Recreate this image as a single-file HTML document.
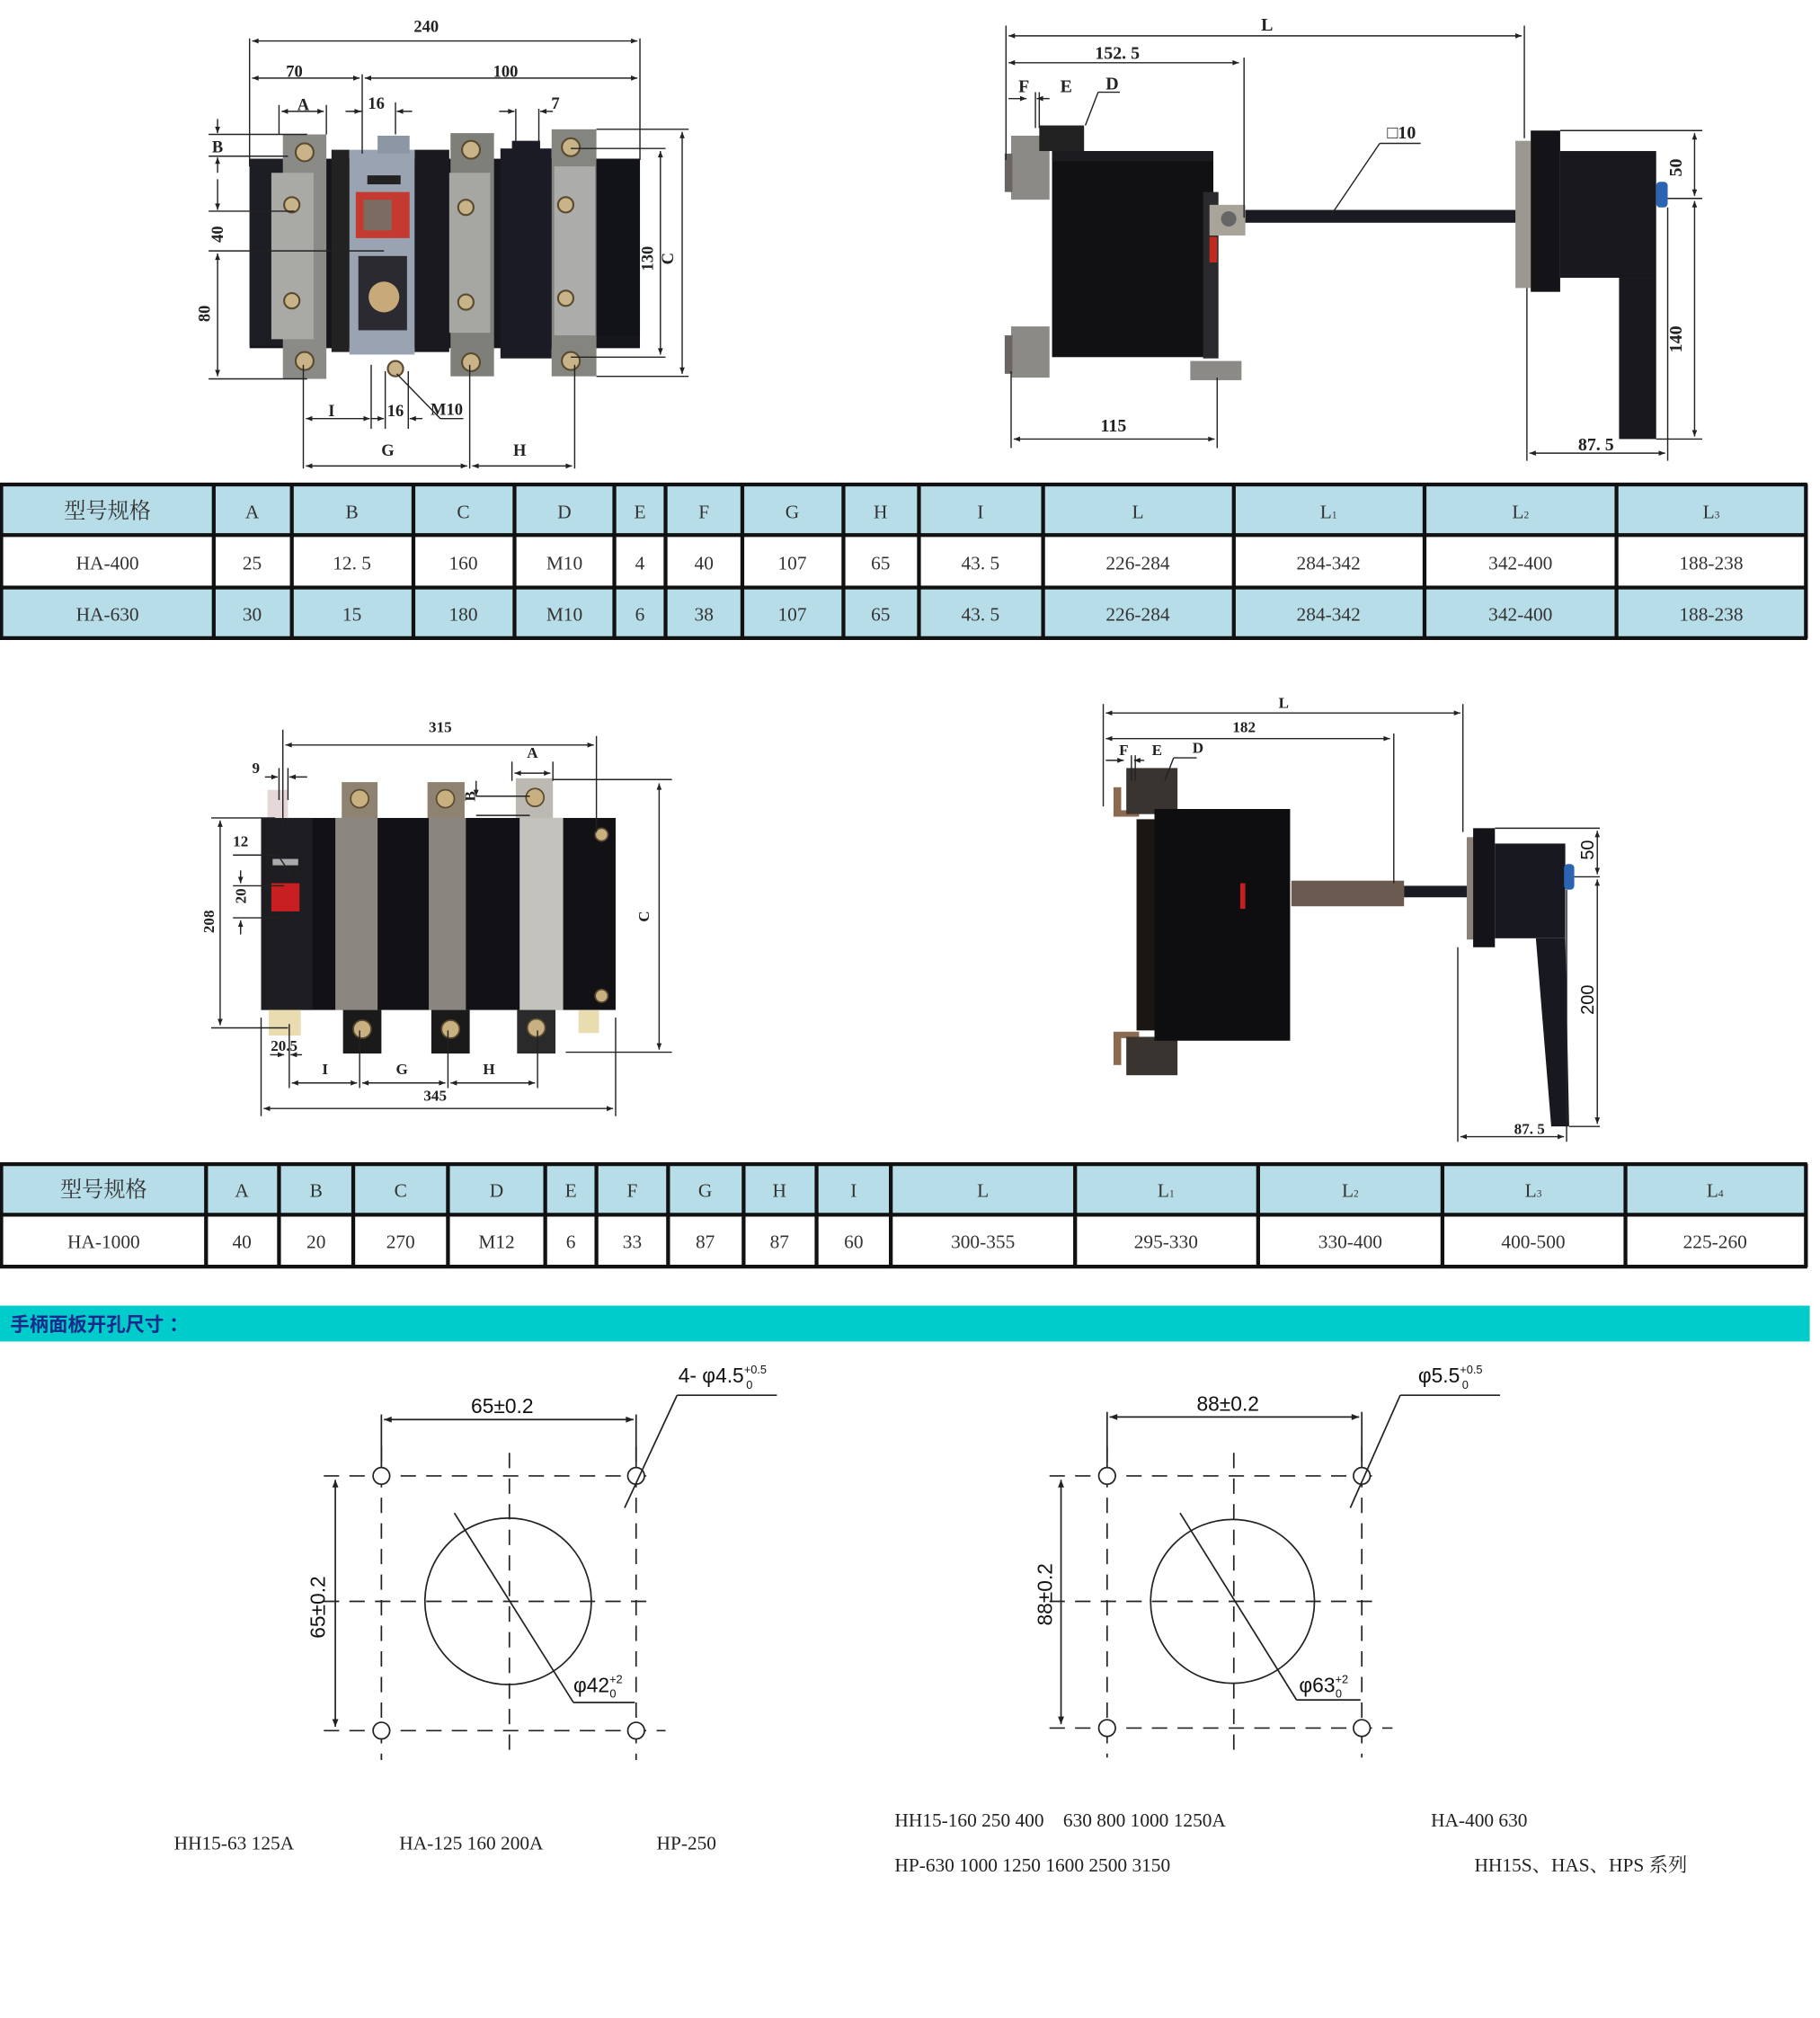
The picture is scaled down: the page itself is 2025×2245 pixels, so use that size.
<!DOCTYPE html>
<html><head><meta charset="utf-8">
<style>
html,body{margin:0;padding:0;background:#fff;}
svg{display:block;}
.s{font-family:"Liberation Serif","Noto Serif CJK SC",serif;fill:#222;}
.a{font-family:"Liberation Sans","Noto Sans CJK SC",sans-serif;fill:#111;}
.t{font-family:"Liberation Serif","Noto Serif CJK SC",serif;fill:#333;font-size:15px;text-anchor:middle;}
</style></head><body>
<svg width="2025" height="2245" viewBox="0 0 1422 1576.5" preserveAspectRatio="none" xmlns="http://www.w3.org/2000/svg">
<defs>
<marker id="ar" viewBox="0 0 10 10" refX="10" refY="5" markerWidth="7" markerHeight="5" orient="auto-start-reverse"><path d="M0,1 L10,5 L0,9 z" fill="#222"/></marker>
</defs>

<!-- ============ TOP LEFT PHOTO ============ -->
<g>
<rect x="195" y="124" width="305" height="148" fill="#15161c"/>
<rect x="195" y="124" width="26" height="146" fill="#1d1e24"/>
<rect x="221" y="105" width="34" height="191" fill="#8a8a86"/>
<rect x="212" y="135" width="33" height="130" fill="#a9aaa6"/>
<rect x="259" y="117" width="14" height="158" fill="#222"/>
<rect x="273" y="117" width="51" height="160" fill="#9aa3b2"/>
<rect x="295" y="106" width="25" height="14" fill="#8d96a4"/>
<rect x="278" y="150" width="42" height="36" fill="#c43a30"/>
<rect x="284" y="156" width="22" height="24" fill="#7b6b60"/>
<rect x="287" y="137" width="26" height="7" fill="#222"/>
<rect x="280" y="200" width="38" height="58" fill="#2a2a30"/>
<circle cx="300" cy="232" r="12" fill="#c8a97a"/>
<rect x="324" y="117" width="27" height="158" fill="#1a1a1e"/>
<rect x="352" y="104" width="34" height="190" fill="#7f7f7a"/>
<rect x="351" y="135" width="32" height="125" fill="#a6a7a3"/>
<rect x="391" y="116" width="40" height="164" fill="#1a1b25"/>
<rect x="400" y="110" width="22" height="8" fill="#1a1b25"/>
<rect x="431" y="101" width="35" height="193" fill="#85857f"/>
<rect x="433" y="130" width="32" height="132" fill="#acadaa"/>
<rect x="466" y="124" width="34" height="138" fill="#121318"/>
<g fill="#c9b48a" stroke="#5a4a30" stroke-width="1.5">
<circle cx="238" cy="119" r="7"/><circle cx="238" cy="282" r="7"/><circle cx="228" cy="160" r="6"/><circle cx="228" cy="235" r="6"/>
<circle cx="368" cy="117" r="7"/><circle cx="368" cy="283" r="7"/><circle cx="364" cy="162" r="6"/><circle cx="364" cy="236" r="6"/>
<circle cx="446" cy="115" r="7"/><circle cx="446" cy="282" r="7"/><circle cx="442" cy="160" r="6"/><circle cx="442" cy="233" r="6"/>
<circle cx="309" cy="288" r="6"/>
</g>
<g stroke="#222" stroke-width="1" fill="none">
<line x1="195" y1="30" x2="195" y2="130"/><line x1="500" y1="30" x2="500" y2="125"/>
<line x1="197" y1="32" x2="498" y2="32" marker-start="url(#ar)" marker-end="url(#ar)"/>
<line x1="197" y1="61" x2="281" y2="61" marker-start="url(#ar)" marker-end="url(#ar)"/>
<line x1="285" y1="61" x2="498" y2="61" marker-start="url(#ar)" marker-end="url(#ar)"/>
<line x1="283" y1="58" x2="283" y2="120"/>
<line x1="218" y1="82" x2="218" y2="105"/><line x1="255" y1="82" x2="255" y2="105"/>
<line x1="220" y1="87" x2="253" y2="87" marker-start="url(#ar)" marker-end="url(#ar)"/>
<line x1="283" y1="87" x2="276" y2="87"/><line x1="309" y1="80" x2="309" y2="105"/>
<line x1="270" y1="87" x2="282" y2="87" marker-end="url(#ar)"/><line x1="322" y1="87" x2="310" y2="87" marker-end="url(#ar)"/>
<line x1="403" y1="85" x2="403" y2="112"/><line x1="421" y1="85" x2="421" y2="112"/>
<line x1="390" y1="87" x2="402" y2="87" marker-end="url(#ar)"/><line x1="432" y1="87" x2="422" y2="87" marker-end="url(#ar)"/>
<line x1="163" y1="105" x2="240" y2="105"/><line x1="163" y1="122" x2="225" y2="122"/>
<line x1="163" y1="165" x2="230" y2="165"/><line x1="163" y1="196" x2="300" y2="196"/><line x1="163" y1="296" x2="240" y2="296"/>
<line x1="170" y1="93" x2="170" y2="104" marker-end="url(#ar)"/><line x1="170" y1="135" x2="170" y2="123" marker-end="url(#ar)"/>
<line x1="170" y1="140" x2="170" y2="164" marker-end="url(#ar)"/>
<line x1="170" y1="198" x2="170" y2="294" marker-start="url(#ar)" marker-end="url(#ar)"/>
<line x1="446" y1="116" x2="520" y2="116"/><line x1="446" y1="279" x2="520" y2="279"/>
<line x1="466" y1="101" x2="538" y2="101"/><line x1="466" y1="294" x2="538" y2="294"/>
<line x1="516" y1="118" x2="516" y2="277" marker-start="url(#ar)" marker-end="url(#ar)"/>
<line x1="533" y1="103" x2="533" y2="292" marker-start="url(#ar)" marker-end="url(#ar)"/>
<line x1="237" y1="285" x2="237" y2="366"/><line x1="290" y1="285" x2="290" y2="335"/>
<line x1="301" y1="290" x2="301" y2="335"/><line x1="319" y1="290" x2="319" y2="335"/>
<line x1="367" y1="285" x2="367" y2="366"/><line x1="449" y1="285" x2="449" y2="366"/>
<line x1="239" y1="327" x2="289" y2="327" marker-start="url(#ar)" marker-end="url(#ar)"/>
<line x1="290" y1="327" x2="300" y2="327" marker-end="url(#ar)"/><line x1="330" y1="327" x2="320" y2="327" marker-end="url(#ar)"/>
<line x1="310" y1="292" x2="344" y2="327"/><line x1="344" y1="327" x2="362" y2="327"/>
<line x1="239" y1="364" x2="365" y2="364" marker-start="url(#ar)" marker-end="url(#ar)"/>
<line x1="369" y1="364" x2="447" y2="364" marker-start="url(#ar)" marker-end="url(#ar)"/>
</g>
<g class="s" font-size="13" font-weight="bold" text-anchor="middle">
<text x="333" y="25">240</text><text x="230" y="60">70</text><text x="395" y="60">100</text>
<text x="237" y="86">A</text><text x="294" y="85">16</text><text x="434" y="85">7</text>
<text x="170" y="119">B</text>
<text x="174" y="183" transform="rotate(-90 174 183)">40</text>
<text x="164" y="245" transform="rotate(-90 164 245)">80</text>
<text x="510" y="202" transform="rotate(-90 510 202)">130</text>
<text x="526" y="202" transform="rotate(-90 526 202)">C</text>
<text x="259" y="325">I</text><text x="309" y="325">16</text><text x="349" y="324">M10</text>
<text x="303" y="356">G</text><text x="406" y="356">H</text>
</g>
</g>

<!-- ============ TOP RIGHT PHOTO ============ -->
<g>
<rect x="790" y="106" width="30" height="50" fill="#8c8a86"/>
<rect x="790" y="255" width="30" height="40" fill="#8c8a86"/>
<rect x="785" y="120" width="6" height="30" fill="#6a6560"/>
<rect x="785" y="262" width="6" height="30" fill="#6a6560"/>
<rect x="812" y="98" width="35" height="20" fill="#222"/>
<rect x="822" y="118" width="126" height="161" fill="#111114"/>
<rect x="822" y="118" width="126" height="8" fill="#1c1c20"/>
<rect x="940" y="150" width="12" height="130" fill="#2a2a2e"/>
<rect x="945" y="160" width="28" height="24" fill="#a9a49a"/>
<circle cx="960" cy="171" r="6" fill="#666"/>
<rect x="945" y="185" width="6" height="20" fill="#c02a20"/>
<rect x="930" y="282" width="40" height="15" fill="#8c8a86"/>
<rect x="973" y="164" width="216" height="10" fill="#1a1a22"/>
<rect x="1184" y="110" width="12" height="115" fill="#9a9890"/>
<rect x="1196" y="102" width="23" height="126" fill="#141418"/>
<rect x="1219" y="118" width="75" height="99" fill="#18181e"/>
<rect x="1265" y="217" width="29" height="126" fill="#18181e"/>
<rect x="1294" y="142" width="9" height="20" rx="3" fill="#2c64b4"/>
<g stroke="#222" stroke-width="1" fill="none">
<line x1="786" y1="20" x2="786" y2="125"/><line x1="1191" y1="20" x2="1191" y2="108"/>
<line x1="788" y1="28" x2="1189" y2="28" marker-start="url(#ar)" marker-end="url(#ar)"/>
<line x1="788" y1="49" x2="968" y2="49" marker-start="url(#ar)" marker-end="url(#ar)"/>
<line x1="972" y1="45" x2="972" y2="170"/>
<line x1="788" y1="77" x2="802" y2="77" marker-end="url(#ar)"/><line x1="820" y1="77" x2="810" y2="77" marker-end="url(#ar)"/>
<line x1="809" y1="72" x2="809" y2="100"/><line x1="812" y1="72" x2="812" y2="100"/>
<line x1="848" y1="98" x2="858" y2="72"/><line x1="858" y1="72" x2="875" y2="72"/>
<line x1="1040" y1="168" x2="1078" y2="112"/><line x1="1078" y1="112" x2="1110" y2="112"/>
<line x1="1219" y1="102" x2="1330" y2="102"/><line x1="1303" y1="155" x2="1330" y2="155"/><line x1="1294" y1="343" x2="1330" y2="343"/>
<line x1="1324" y1="104" x2="1324" y2="153" marker-start="url(#ar)" marker-end="url(#ar)"/>
<line x1="1324" y1="157" x2="1324" y2="341" marker-start="url(#ar)" marker-end="url(#ar)"/>
<line x1="1193" y1="225" x2="1193" y2="360"/><line x1="1303" y1="162" x2="1303" y2="360"/>
<line x1="1195" y1="354" x2="1301" y2="354" marker-start="url(#ar)" marker-end="url(#ar)"/>
<line x1="790" y1="290" x2="790" y2="350"/><line x1="951" y1="295" x2="951" y2="350"/>
<line x1="792" y1="343" x2="949" y2="343" marker-start="url(#ar)" marker-end="url(#ar)"/>
</g>
<g class="s" font-size="14" font-weight="bold" text-anchor="middle">
<text x="990" y="24">L</text><text x="873" y="46">152. 5</text>
<text x="800" y="72">F</text><text x="833" y="72">E</text><text x="869" y="70">D</text>
<text x="1095" y="108">□10</text>
<text x="1314" y="131" transform="rotate(-90 1314 131)">50</text>
<text x="1314" y="265" transform="rotate(-90 1314 265)">140</text>
<text x="1247" y="352">87. 5</text><text x="870" y="337">115</text>
</g>
</g>

<!-- ============ TABLE 1 ============ -->
<g>
<rect x="0" y="378" width="1412" height="121" fill="#b7dde8"/>
<rect x="0" y="418" width="1412" height="41" fill="#fff"/>
<g stroke="#111" stroke-width="3" fill="none">
<line x1="0" y1="378.5" x2="1412" y2="378.5"/><line x1="0" y1="418" x2="1412" y2="418"/>
<line x1="0" y1="459" x2="1412" y2="459"/><line x1="0" y1="498.5" x2="1412" y2="498.5"/>
<line x1="1" y1="378" x2="1" y2="499"/>
<line x1="167" y1="378" x2="167" y2="499"/><line x1="228" y1="378" x2="228" y2="499"/><line x1="323" y1="378" x2="323" y2="499"/>
<line x1="402" y1="378" x2="402" y2="499"/><line x1="480" y1="378" x2="480" y2="499"/><line x1="520" y1="378" x2="520" y2="499"/>
<line x1="580" y1="378" x2="580" y2="499"/><line x1="659" y1="378" x2="659" y2="499"/><line x1="718" y1="378" x2="718" y2="499"/>
<line x1="815" y1="378" x2="815" y2="499"/><line x1="964" y1="378" x2="964" y2="499"/><line x1="1113" y1="378" x2="1113" y2="499"/>
<line x1="1263" y1="378" x2="1263" y2="499"/><line x1="1411" y1="378" x2="1411" y2="499"/>
</g>
<g class="t">
<text x="84" y="405" font-size="17">型号规格</text><text x="197" y="405">A</text><text x="275" y="405">B</text><text x="362" y="405">C</text>
<text x="441" y="405">D</text><text x="500" y="405">E</text><text x="550" y="405">F</text><text x="619" y="405">G</text>
<text x="688" y="405">H</text><text x="766" y="405">I</text><text x="889" y="405">L</text>
<text x="1038" y="405">L<tspan font-size="8">1</tspan></text><text x="1188" y="405">L<tspan font-size="8">2</tspan></text><text x="1337" y="405">L<tspan font-size="8">3</tspan></text>
<text x="84" y="445">HA-400</text><text x="197" y="445">25</text><text x="275" y="445">12. 5</text><text x="362" y="445">160</text>
<text x="441" y="445">M10</text><text x="500" y="445">4</text><text x="550" y="445">40</text><text x="619" y="445">107</text>
<text x="688" y="445">65</text><text x="766" y="445">43. 5</text><text x="889" y="445">226-284</text>
<text x="1038" y="445">284-342</text><text x="1188" y="445">342-400</text><text x="1337" y="445">188-238</text>
<text x="84" y="485">HA-630</text><text x="197" y="485">30</text><text x="275" y="485">15</text><text x="362" y="485">180</text>
<text x="441" y="485">M10</text><text x="500" y="485">6</text><text x="550" y="485">38</text><text x="619" y="485">107</text>
<text x="688" y="485">65</text><text x="766" y="485">43. 5</text><text x="889" y="485">226-284</text>
<text x="1038" y="485">284-342</text><text x="1188" y="485">342-400</text><text x="1337" y="485">188-238</text>
</g>
</g>

<!-- ============ BOTTOM LEFT PHOTO ============ -->
<g>
<rect x="204" y="639" width="277" height="150" fill="#121216"/>
<rect x="204" y="639" width="40" height="150" fill="#1e1e22"/>
<rect x="209" y="617" width="16" height="22" fill="#e6d8d8"/>
<rect x="210" y="789" width="25" height="20" fill="#e8dcb0"/>
<rect x="212" y="690" width="22" height="22" fill="#c82020"/>
<rect x="213" y="671" width="20" height="5" fill="#aaa"/>
<rect x="262" y="639" width="33" height="150" fill="#8c8680"/>
<rect x="267" y="611" width="28" height="28" fill="#8e8270"/>
<rect x="268" y="789" width="30" height="34" fill="#1a1a1a"/>
<rect x="335" y="639" width="29" height="150" fill="#8a857f"/>
<rect x="334" y="611" width="29" height="28" fill="#8e8270"/>
<rect x="337" y="789" width="30" height="34" fill="#1a1a1a"/>
<rect x="406" y="639" width="34" height="150" fill="#c4c2bc"/>
<rect x="403" y="608" width="29" height="31" fill="#bbb9b2"/>
<rect x="404" y="789" width="30" height="34" fill="#2a2a2a"/>
<rect x="452" y="789" width="16" height="18" fill="#e8dcb0"/>
<g fill="#c8b080" stroke="#5a4a30" stroke-width="1.2">
<circle cx="281" cy="624" r="7"/><circle cx="348" cy="624" r="7"/><circle cx="418" cy="623" r="7"/>
<circle cx="283" cy="804" r="7"/><circle cx="352" cy="804" r="7"/><circle cx="419" cy="803" r="7"/>
<circle cx="470" cy="652" r="5"/><circle cx="470" cy="778" r="5"/>
</g>
<g stroke="#222" stroke-width="1" fill="none">
<line x1="221" y1="570" x2="221" y2="645"/><line x1="466" y1="575" x2="466" y2="650"/>
<line x1="223" y1="582" x2="464" y2="582" marker-start="url(#ar)" marker-end="url(#ar)"/>
<line x1="218" y1="600" x2="218" y2="625"/><line x1="225" y1="600" x2="225" y2="625"/>
<line x1="207" y1="607" x2="217" y2="607" marker-end="url(#ar)"/><line x1="240" y1="607" x2="226" y2="607" marker-end="url(#ar)"/>
<line x1="400" y1="595" x2="400" y2="610"/><line x1="432" y1="595" x2="432" y2="610"/>
<line x1="402" y1="604" x2="430" y2="604" marker-start="url(#ar)" marker-end="url(#ar)"/>
<line x1="432" y1="609" x2="525" y2="609"/><line x1="442" y1="822" x2="525" y2="822"/>
<line x1="515" y1="612" x2="515" y2="820" marker-start="url(#ar)" marker-end="url(#ar)"/>
<line x1="372" y1="610" x2="372" y2="622" marker-end="url(#ar)"/>
<line x1="372" y1="637" x2="414" y2="637"/><line x1="372" y1="622" x2="414" y2="622"/>
<line x1="165" y1="639" x2="215" y2="639"/><line x1="165" y1="803" x2="225" y2="803"/>
<line x1="172" y1="641" x2="172" y2="801" marker-start="url(#ar)" marker-end="url(#ar)"/>
<line x1="182" y1="668" x2="217" y2="668"/><line x1="217" y1="668" x2="228" y2="684"/>
<line x1="188" y1="680" x2="188" y2="690" marker-end="url(#ar)"/>
<line x1="182" y1="692" x2="222" y2="692"/><line x1="182" y1="717" x2="222" y2="717"/>
<line x1="188" y1="730" x2="188" y2="719" marker-end="url(#ar)"/>
<line x1="204" y1="795" x2="204" y2="872"/><line x1="226" y1="800" x2="226" y2="850"/>
<line x1="281" y1="805" x2="281" y2="850"/><line x1="350" y1="805" x2="350" y2="850"/><line x1="420" y1="805" x2="420" y2="850"/>
<line x1="481" y1="795" x2="481" y2="872"/>
<line x1="228" y1="846" x2="279" y2="846" marker-start="url(#ar)" marker-end="url(#ar)"/>
<line x1="283" y1="846" x2="348" y2="846" marker-start="url(#ar)" marker-end="url(#ar)"/>
<line x1="352" y1="846" x2="418" y2="846" marker-start="url(#ar)" marker-end="url(#ar)"/>
<line x1="206" y1="866" x2="479" y2="866" marker-start="url(#ar)" marker-end="url(#ar)"/>
<line x1="211" y1="824" x2="222" y2="824" marker-end="url(#ar)"/><line x1="236" y1="824" x2="227" y2="824" marker-end="url(#ar)"/>
</g>
<g class="s" font-size="12" font-weight="bold" text-anchor="middle">
<text x="344" y="572">315</text><text x="416" y="592">A</text><text x="200" y="604">9</text>
<text x="188" y="661">12</text>
<text x="371" y="622" transform="rotate(-90 371 622)">B</text>
<text x="192" y="700" transform="rotate(-90 192 700)">20</text>
<text x="167" y="720" transform="rotate(-90 167 720)">208</text>
<text x="507" y="716" transform="rotate(-90 507 716)">C</text>
<text x="222" y="821">20.5</text>
<text x="254" y="839">I</text><text x="314" y="839">G</text><text x="382" y="839">H</text>
<text x="340" y="860">345</text>
</g>
</g>

<!-- ============ BOTTOM RIGHT PHOTO ============ -->
<g>
<rect x="870" y="615" width="6" height="22" fill="#8a6a50"/><rect x="870" y="633" width="20" height="5" fill="#8a6a50"/>
<rect x="870" y="808" width="6" height="24" fill="#8a6a50"/><rect x="870" y="806" width="20" height="5" fill="#8a6a50"/>
<rect x="880" y="600" width="40" height="36" fill="#3a3430"/>
<rect x="880" y="810" width="40" height="30" fill="#3a3430"/>
<rect x="888" y="640" width="14" height="165" fill="#1a1614"/>
<rect x="902" y="632" width="106" height="181" fill="#0e0d0f"/>
<rect x="969" y="690" width="4" height="20" fill="#c02020"/>
<rect x="1009" y="688" width="88" height="20" fill="#6a5a50"/>
<rect x="1097" y="692" width="52" height="9" fill="#1a1a22"/>
<rect x="1146" y="654" width="6" height="80" fill="#8a8078"/>
<rect x="1151" y="647" width="17" height="93" fill="#141418"/>
<rect x="1168" y="659" width="55" height="74" fill="#181820"/>
<path d="M1200,733 L1223,733 L1226,880 L1212,880 Z" fill="#181820"/>
<rect x="1222" y="675" width="8" height="20" rx="3" fill="#2c64b4"/>
<g stroke="#222" stroke-width="1" fill="none">
<line x1="862" y1="550" x2="862" y2="630"/><line x1="1143" y1="550" x2="1143" y2="650"/>
<line x1="864" y1="557" x2="1141" y2="557" marker-start="url(#ar)" marker-end="url(#ar)"/>
<line x1="864" y1="577" x2="1086" y2="577" marker-start="url(#ar)" marker-end="url(#ar)"/>
<line x1="1089" y1="573" x2="1089" y2="690"/>
<line x1="864" y1="594" x2="878" y2="594" marker-end="url(#ar)"/><line x1="894" y1="594" x2="886" y2="594" marker-end="url(#ar)"/>
<line x1="884" y1="590" x2="884" y2="610"/><line x1="887" y1="590" x2="887" y2="610"/>
<line x1="910" y1="610" x2="917" y2="592"/><line x1="917" y1="592" x2="935" y2="592"/>
<line x1="1168" y1="647" x2="1250" y2="647"/><line x1="1230" y1="685" x2="1250" y2="685"/><line x1="1226" y1="880" x2="1250" y2="880"/>
<line x1="1248" y1="649" x2="1248" y2="683" marker-start="url(#ar)" marker-end="url(#ar)"/>
<line x1="1248" y1="687" x2="1248" y2="878" marker-start="url(#ar)" marker-end="url(#ar)"/>
<line x1="1139" y1="740" x2="1139" y2="892"/><line x1="1224" y1="695" x2="1224" y2="892"/>
<line x1="1141" y1="888" x2="1222" y2="888" marker-start="url(#ar)" marker-end="url(#ar)"/>
</g>
<g text-anchor="middle" font-weight="bold">
<text class="s" x="1003" y="553" font-size="12">L</text>
<text class="s" x="972" y="572" font-size="12">182</text>
<text class="s" x="878" y="590" font-size="12">F</text><text class="s" x="904" y="590" font-size="12">E</text><text class="s" x="936" y="588" font-size="12">D</text>
<text class="a" x="1245" y="664" font-size="14" font-weight="normal" transform="rotate(-90 1245 664)">50</text>
<text class="a" x="1245" y="781" font-size="14" font-weight="normal" transform="rotate(-90 1245 781)">200</text>
<text class="s" x="1195" y="886" font-size="12">87. 5</text>
</g>
</g>

<!-- ============ TABLE 2 ============ -->
<g>
<rect x="0" y="909" width="1412" height="40" fill="#b7dde8"/>
<rect x="0" y="949" width="1412" height="41" fill="#fff"/>
<g stroke="#111" stroke-width="3" fill="none">
<line x1="0" y1="909.5" x2="1412" y2="909.5"/><line x1="0" y1="949" x2="1412" y2="949"/><line x1="0" y1="989.5" x2="1412" y2="989.5"/>
<line x1="1" y1="909" x2="1" y2="990"/>
<line x1="161" y1="909" x2="161" y2="990"/><line x1="218" y1="909" x2="218" y2="990"/><line x1="276" y1="909" x2="276" y2="990"/>
<line x1="350" y1="909" x2="350" y2="990"/><line x1="426" y1="909" x2="426" y2="990"/><line x1="466" y1="909" x2="466" y2="990"/>
<line x1="522" y1="909" x2="522" y2="990"/><line x1="581" y1="909" x2="581" y2="990"/><line x1="638" y1="909" x2="638" y2="990"/>
<line x1="696" y1="909" x2="696" y2="990"/><line x1="840" y1="909" x2="840" y2="990"/><line x1="983" y1="909" x2="983" y2="990"/>
<line x1="1127" y1="909" x2="1127" y2="990"/><line x1="1270" y1="909" x2="1270" y2="990"/><line x1="1411" y1="909" x2="1411" y2="990"/>
</g>
<g class="t">
<text x="81" y="935" font-size="17">型号规格</text><text x="189" y="935">A</text><text x="247" y="935">B</text><text x="313" y="935">C</text>
<text x="388" y="935">D</text><text x="446" y="935">E</text><text x="494" y="935">F</text><text x="551" y="935">G</text>
<text x="609" y="935">H</text><text x="667" y="935">I</text><text x="768" y="935">L</text>
<text x="911" y="935">L<tspan font-size="8">1</tspan></text><text x="1055" y="935">L<tspan font-size="8">2</tspan></text><text x="1198" y="935">L<tspan font-size="8">3</tspan></text><text x="1340" y="935">L<tspan font-size="8">4</tspan></text>
<text x="81" y="975">HA-1000</text><text x="189" y="975">40</text><text x="247" y="975">20</text><text x="313" y="975">270</text>
<text x="388" y="975">M12</text><text x="446" y="975">6</text><text x="494" y="975">33</text><text x="551" y="975">87</text>
<text x="609" y="975">87</text><text x="667" y="975">60</text><text x="768" y="975">300-355</text>
<text x="911" y="975">295-330</text><text x="1055" y="975">330-400</text><text x="1198" y="975">400-500</text><text x="1340" y="975">225-260</text>
</g>
</g>

<!-- ============ TEAL BAR ============ -->
<rect x="0" y="1020" width="1414" height="28" fill="#00cccc"/>
<text x="8" y="1040" font-family="'Liberation Sans','Noto Sans CJK SC',sans-serif" font-size="15" font-weight="bold" fill="#1a2a8a">手柄面板开孔尺寸 ：</text>

<!-- ============ HOLE PATTERN 1 ============ -->
<g stroke="#222" stroke-width="1.2" fill="none">
<g stroke-dasharray="12,8">
<line x1="253" y1="1153" x2="512" y2="1153"/><line x1="253" y1="1251" x2="512" y2="1251"/><line x1="253" y1="1352" x2="520" y2="1352"/>
<line x1="298" y1="1130" x2="298" y2="1375"/><line x1="398" y1="1135" x2="398" y2="1370"/><line x1="497" y1="1130" x2="497" y2="1375"/>
</g>
<line x1="298" y1="1105" x2="298" y2="1146"/><line x1="497" y1="1105" x2="497" y2="1146"/>
<line x1="300" y1="1109" x2="495" y2="1109" marker-start="url(#ar)" marker-end="url(#ar)"/>
<line x1="262" y1="1156" x2="262" y2="1349" marker-start="url(#ar)" marker-end="url(#ar)"/>
<circle cx="298" cy="1153" r="6.5" fill="#fff"/><circle cx="497" cy="1153" r="6.5" fill="#fff"/>
<circle cx="298" cy="1352" r="6.5" fill="#fff"/><circle cx="497" cy="1352" r="6.5" fill="#fff"/>
<circle cx="397" cy="1251" r="65"/>
<line x1="355" y1="1182" x2="448" y2="1330"/><line x1="448" y1="1330" x2="496" y2="1330"/>
<line x1="529" y1="1090" x2="488" y2="1178"/><line x1="529" y1="1090" x2="607" y2="1090"/>
</g>
<g class="a" font-size="16">
<text x="368" y="1104">65±0.2</text>
<text x="254" y="1280" transform="rotate(-90 254 1280)">65±0.2</text>
<text x="530" y="1080">4- φ4.5<tspan font-size="9" dy="-7">+0.5</tspan><tspan font-size="9" dx="-16" dy="12">0</tspan></text>
<text x="448" y="1322">φ42<tspan font-size="9" dy="-7">+2</tspan><tspan font-size="9" dx="-10" dy="11">0</tspan></text>
</g>

<!-- ============ HOLE PATTERN 2 ============ -->
<g stroke="#222" stroke-width="1.2" fill="none">
<g stroke-dasharray="12,8">
<line x1="820" y1="1153" x2="1080" y2="1153"/><line x1="820" y1="1251" x2="1080" y2="1251"/><line x1="820" y1="1350" x2="1088" y2="1350"/>
<line x1="865" y1="1130" x2="865" y2="1373"/><line x1="964" y1="1135" x2="964" y2="1368"/><line x1="1064" y1="1130" x2="1064" y2="1373"/>
</g>
<line x1="865" y1="1103" x2="865" y2="1146"/><line x1="1064" y1="1103" x2="1064" y2="1146"/>
<line x1="867" y1="1107" x2="1062" y2="1107" marker-start="url(#ar)" marker-end="url(#ar)"/>
<line x1="829" y1="1156" x2="829" y2="1347" marker-start="url(#ar)" marker-end="url(#ar)"/>
<circle cx="865" cy="1153" r="6.5" fill="#fff"/><circle cx="1064" cy="1153" r="6.5" fill="#fff"/>
<circle cx="865" cy="1350" r="6.5" fill="#fff"/><circle cx="1064" cy="1350" r="6.5" fill="#fff"/>
<circle cx="963" cy="1251" r="64"/>
<line x1="922" y1="1182" x2="1013" y2="1328"/><line x1="1013" y1="1328" x2="1063" y2="1328"/>
<line x1="1094" y1="1090" x2="1055" y2="1178"/><line x1="1094" y1="1090" x2="1172" y2="1090"/>
</g>
<g class="a" font-size="16">
<text x="935" y="1102">88±0.2</text>
<text x="822" y="1270" transform="rotate(-90 822 1270)">88±0.2</text>
<text x="1108" y="1080">φ5.5<tspan font-size="9" dy="-7">+0.5</tspan><tspan font-size="9" dx="-16" dy="12">0</tspan></text>
<text x="1015" y="1322">φ63<tspan font-size="9" dy="-7">+2</tspan><tspan font-size="9" dx="-10" dy="11">0</tspan></text>
</g>

<!-- ============ BOTTOM LABELS ============ -->
<g class="s" font-size="15" fill="#444">
<text x="136" y="1445">HH15-63 125A</text>
<text x="312" y="1445">HA-125 160 200A</text>
<text x="513" y="1445">HP-250</text>
<text x="699" y="1427">HH15-160 250 400&#160;&#160;&#160;&#160;630 800 1000 1250A</text>
<text x="1118" y="1427">HA-400 630</text>
<text x="699" y="1462">HP-630 1000 1250 1600 2500 3150</text>
<text x="1152" y="1462">HH15S、HAS、HPS 系列</text>
</g>
</svg>
</body></html>
